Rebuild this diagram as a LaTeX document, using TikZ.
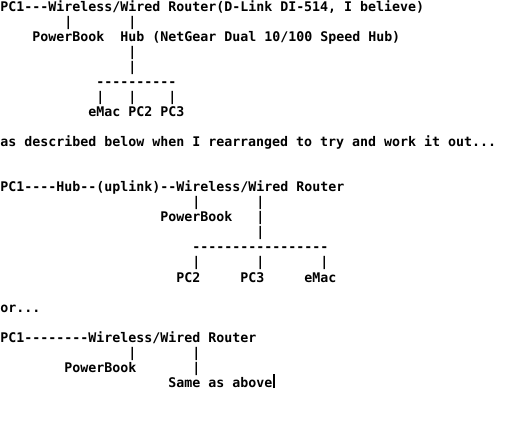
\documentclass[tikz,border=0pt]{standalone}
\usepackage{fontspec}
\newfontfamily\fx{DejaVu Sans Mono Bold}
\tikzset{
  txt/.style={font=\fx\fontsize{9.966pt}{11pt}\selectfont, inner sep=0pt, anchor=base west},
  caret/.style={line width=1.5pt}
}
\begin{document}
\begin{tikzpicture}[x=6pt,y=-11.25pt]
\useasboundingbox[fill=white] (0,0) rectangle (66.375,28.4667);
% ---- first layout
\node[txt] (pcA) at (0,0.8) {PC1};
\node[txt] (dA) at (3,0.8) {---};
\node[txt] (rtA) at (6,0.8) {Wireless/Wired Router(D-Link DI-514, I believe)};
\node[txt] (vA1) at (8,1.8) {|};
\node[txt] (vA2) at (16,1.8) {|};
\node[txt] (pbA) at (4,2.8) {PowerBook};
\node[txt] (hubA) at (15,2.8) {Hub (NetGear Dual 10/100 Speed Hub)};
\node[txt] (vA3) at (16,3.8) {|};
\node[txt] (vA4) at (16,4.8) {|};
\node[txt] (barA) at (12,5.8) {----------};
\node[txt] (vA5) at (12,6.8) {|};
\node[txt] (vA6) at (16,6.8) {|};
\node[txt] (vA7) at (21,6.8) {|};
\node[txt] (emacA) at (11,7.8) {eMac};
\node[txt] (pc2A) at (16,7.8) {PC2};
\node[txt] (pc3A) at (20,7.8) {PC3};
% ---- comment
\node[txt] (desc) at (0,9.8) {as described below when I rearranged to try and work it out...};
% ---- second layout
\node[txt] (pcB) at (0,12.8) {PC1};
\node[txt] (dB1) at (3,12.8) {----};
\node[txt] (hubB) at (7,12.8) {Hub};
\node[txt] (dB2) at (10,12.8) {--};
\node[txt] (upB) at (12,12.8) {(uplink)};
\node[txt] (dB3) at (20,12.8) {--};
\node[txt] (rtB) at (22,12.8) {Wireless/Wired Router};
\node[txt] (vB1) at (24,13.8) {|};
\node[txt] (vB2) at (32,13.8) {|};
\node[txt] (pbB) at (20,14.8) {PowerBook};
\node[txt] (vB3) at (32,14.8) {|};
\node[txt] (vB4) at (32,15.8) {|};
\node[txt] (barB) at (24,16.8) {-----------------};
\node[txt] (vB5) at (24,17.8) {|};
\node[txt] (vB6) at (32,17.8) {|};
\node[txt] (vB7) at (40,17.8) {|};
\node[txt] (pc2B) at (22,18.8) {PC2};
\node[txt] (pc3B) at (30,18.8) {PC3};
\node[txt] (emacB) at (38,18.8) {eMac};
% ---- or
\node[txt] (orC) at (0,20.8) {or...};
% ---- third layout
\node[txt] (pcC) at (0,22.8) {PC1};
\node[txt] (dC) at (3,22.8) {--------};
\node[txt] (rtC) at (11,22.8) {Wireless/Wired Router};
\node[txt] (vC1) at (16,23.8) {|};
\node[txt] (vC2) at (24,23.8) {|};
\node[txt] (pbC) at (8,24.8) {PowerBook};
\node[txt] (vC3) at (24,24.8) {|};
\node[txt] (same) at (21,25.8) {Same as above};
\draw[caret] ([xshift=0.9pt,yshift=-0.75pt]same.base east) -- ++(0pt,10.5pt);
\end{tikzpicture}
\end{document}
